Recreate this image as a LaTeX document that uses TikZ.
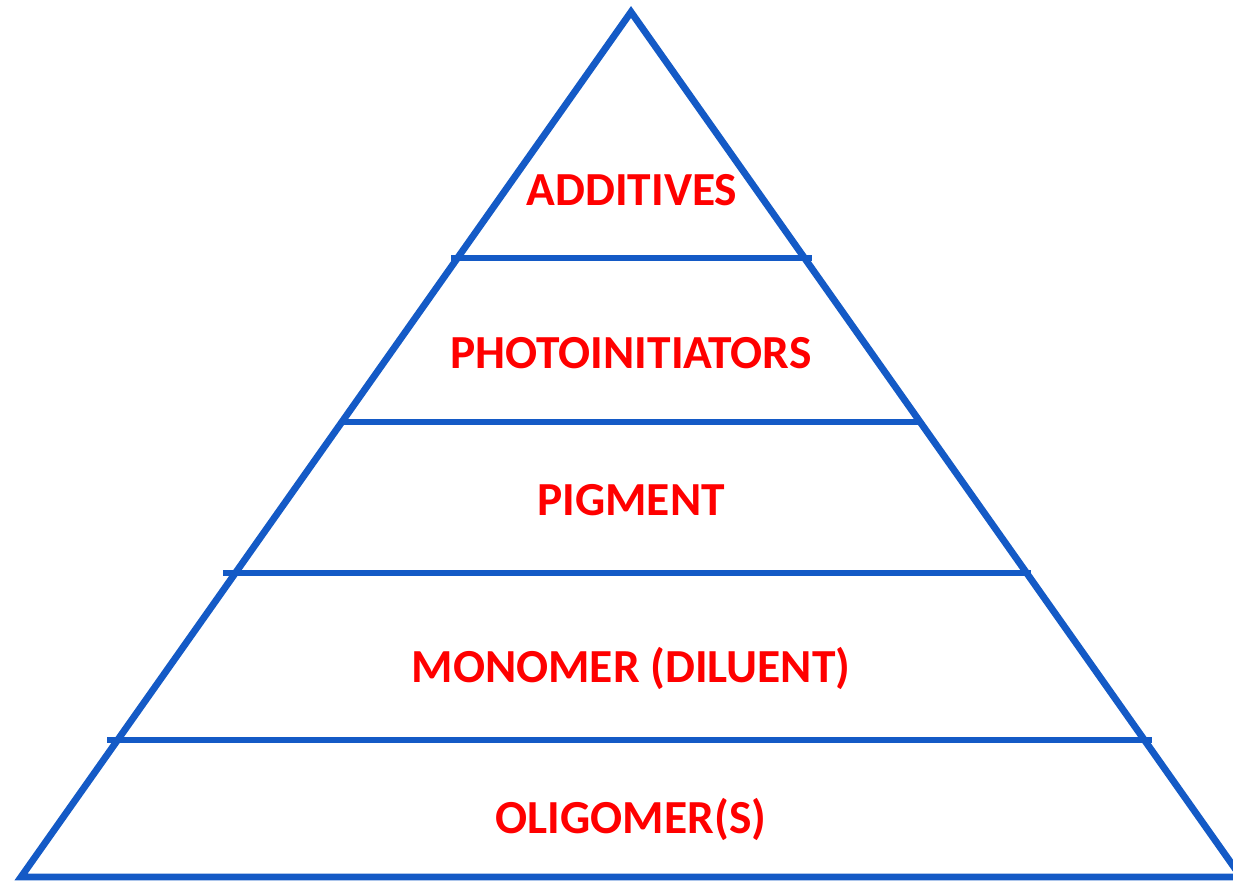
\documentclass[tikz,border=0pt]{standalone}
\usepackage{fontspec}
\setmainfont{Carlito}
\usepackage{tikz}
\usetikzlibrary{calc}

\definecolor{pyrblue}{RGB}{20,90,198}
\definecolor{pyrred}{RGB}{255,0,0}

\begin{document}
\begin{tikzpicture}[x=0.02cm,y=-0.02cm,
        edge/.style={draw=pyrblue,line width=3.9pt},
        layer/.style={text=pyrred,font=\fontsize{27}{32}\selectfont\bfseries,anchor=base}]
        \useasboundingbox (0,0) rectangle (1233,882);
        % outline
        \draw [edge,line join=miter] (631,12) -- (21,877) -- (1241,877) -- cycle;
        % layer borders
        \draw [edge] (451,258) -- (812,258);
        \draw [edge] (343,422) -- (921,422);
        \draw [edge] (223,573) -- (1031,573);
        \draw [edge] (107,740) -- (1152,740);
        % labels
        \node [layer] (additives) at (632,205) {ADDITIVES};
        \node [layer] (photo) at (631,368) {PHOTOINITIATORS};
        \node [layer] (pigment) at (631,515) {PIGMENT};
        \node [layer] (monomer) at (631,682) {MONOMER (DILUENT)};
        \node [layer] (oligomer) at (631,833) {OLIGOMER(S)};
    \end{tikzpicture}
\end{document}
